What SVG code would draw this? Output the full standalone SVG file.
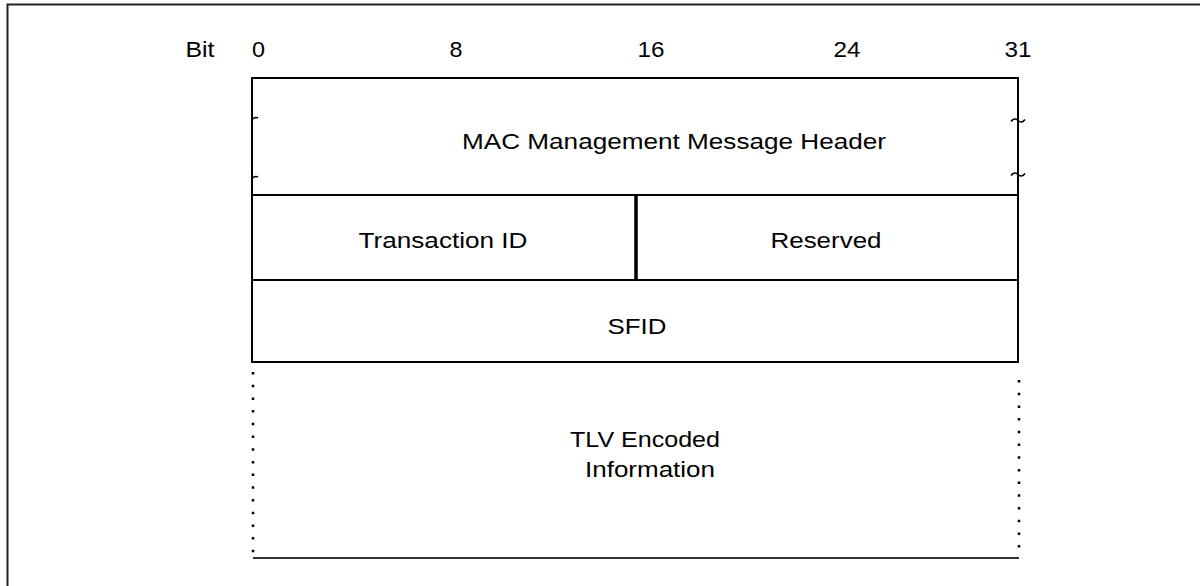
<svg xmlns="http://www.w3.org/2000/svg" width="1200" height="586" viewBox="0 0 1200 586">
<style>
text{font-family:"Liberation Sans",Arial,sans-serif;font-size:22px;fill:#000;text-anchor:middle}
.box{fill:none;stroke:#000;stroke-width:2}
.dot{stroke:#000;stroke-width:2.5;stroke-dasharray:2.5 10.2}
.tl{fill:none;stroke:#000;stroke-width:1.6}
</style>
<rect width="1200" height="586" fill="#fff"/>
<path d="M7.5 586V4.5H1200" fill="none" stroke="#222" stroke-width="2"/>
<g id="bits">
<text x="200" y="57" textLength="29" lengthAdjust="spacingAndGlyphs">Bit</text>
<text x="258.5" y="57" textLength="13" lengthAdjust="spacingAndGlyphs">0</text>
<text x="456" y="57" textLength="13" lengthAdjust="spacingAndGlyphs">8</text>
<text x="651" y="57" textLength="27" lengthAdjust="spacingAndGlyphs">16</text>
<text x="847" y="57" textLength="27" lengthAdjust="spacingAndGlyphs">24</text>
<text x="1018" y="57" textLength="27" lengthAdjust="spacingAndGlyphs">31</text>
</g>
<g id="header">
<rect class="box" x="252" y="78" width="766" height="117"/>
<text x="674" y="149" textLength="424" lengthAdjust="spacingAndGlyphs">MAC Management Message Header</text>
<path class="tl" d="M252 119.5q3 -3 6 -1.5"/>
<path class="tl" d="M252 178.5q3 -3 6 -1.5"/>
<path class="tl" d="M1011 121.5q3.5 -4.5 7 -1t7 -1"/>
<path class="tl" d="M1011 175.5q3.5 -4.5 7 -1t7 -1"/>
</g>
<g id="transaction">
<rect class="box" x="252" y="195" width="384" height="85"/>
<text x="443" y="248" textLength="169" lengthAdjust="spacingAndGlyphs">Transaction ID</text>
</g>
<g id="reserved">
<rect class="box" x="636" y="195" width="382" height="85"/>
<line x1="636" y1="195" x2="636" y2="280" stroke="#000" stroke-width="3.5"/>
<text x="826" y="248" textLength="111" lengthAdjust="spacingAndGlyphs">Reserved</text>
</g>
<g id="sfid">
<rect class="box" x="252" y="280" width="766" height="82"/>
<text x="637" y="334" textLength="59" lengthAdjust="spacingAndGlyphs">SFID</text>
</g>
<g id="tlv">
<line class="dot" x1="253" y1="372" x2="253" y2="556"/>
<line class="dot" x1="1019" y1="380" x2="1019" y2="556"/>
<line x1="253" y1="558" x2="1019" y2="558" stroke="#333" stroke-width="2"/>
<text x="645" y="447" textLength="150" lengthAdjust="spacingAndGlyphs">TLV Encoded</text>
<text x="650" y="477" textLength="130" lengthAdjust="spacingAndGlyphs">Information</text>
</g>
</svg>
